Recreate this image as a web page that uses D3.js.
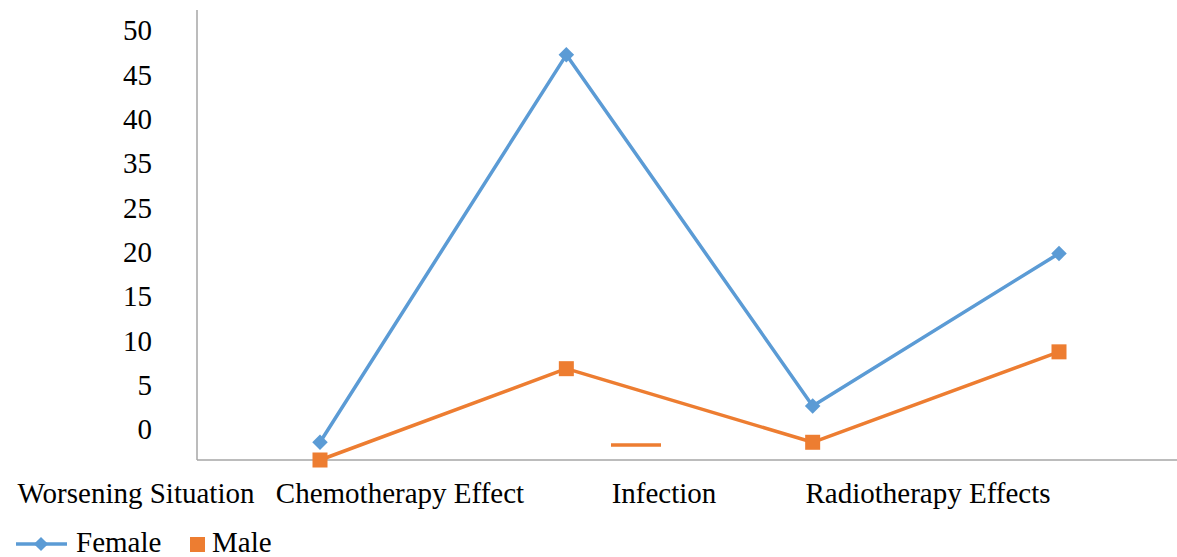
<!DOCTYPE html>
<html>
<head>
<meta charset="utf-8">
<script src="https://cdn.jsdelivr.net/npm/d3@7"></script>
</head>
<body style="margin:0;padding:0;background:#fff">
<svg id="chart" width="1177" height="557"></svg>
<script>
// ---- data ----
const categories = ["Worsening Situation", "Chemotherapy Effect", "Infection", "Radiotherapy Effects"];
const femaleValues = [2.0, 45.7, 6.1, 23.3];
const maleValues = [0.0, 10.3, 2.0, 12.2];
const yTickLabels = ["0", "5", "10", "15", "20", "25", "35", "40", "45", "50"];
const seriesNames = ["Female", "Male"];

// ---- layout ----
const axisX = 197, axisBottom = 460, axisTop = 10, axisRight = 1177;
const fontSize = 29;
const serifFont = "'Liberation Serif', monospace";
const colors = { Female: "#5B9BD5", Male: "#ED7D31" };

const svg = d3.select("#chart");

const x = d3.scalePoint().domain(categories).range([320, 1059]);
const xLabel = d3.scalePoint().domain(categories).range([136, 928]);
const y = d3.scaleLinear().domain([0, 50]).range([axisBottom, axisBottom - 443.3]);
const ySlot = d3.scaleLinear().domain([0, yTickLabels.length - 1]).range([430, 31]);

// axes lines
svg.append("line").attr("x1", axisX).attr("x2", axisX).attr("y1", axisTop).attr("y2", axisBottom)
  .attr("stroke", "#A6A6A6").attr("stroke-width", 1.5);
svg.append("line").attr("x1", axisX).attr("x2", axisRight).attr("y1", axisBottom).attr("y2", axisBottom)
  .attr("stroke", "#A6A6A6").attr("stroke-width", 1.5);

// y tick labels (positions from a slot scale, text from the label array)
svg.selectAll("text.ylab").data(yTickLabels).join("text")
  .attr("class", "ylab")
  .attr("x", 152).attr("y", (d, i) => ySlot(i))
  .attr("dy", "0.32em")
  .attr("text-anchor", "end")
  .attr("font-family", serifFont).attr("font-size", fontSize)
  .text(d => d);

// x labels
svg.selectAll("text.xlab").data(categories).join("text")
  .attr("class", "xlab")
  .attr("x", d => xLabel(d)).attr("y", 503)
  .attr("text-anchor", "middle")
  .attr("font-family", serifFont).attr("font-size", fontSize)
  .text(d => d);

// lines
const series = [
  { name: "Female", values: femaleValues },
  { name: "Male", values: maleValues }
];
const line = d3.line().x((d, i) => x(categories[i])).y(d => y(d));
series.forEach(s => {
  svg.append("path").datum(s.values).attr("d", line)
    .attr("fill", "none").attr("stroke", colors[s.name]).attr("stroke-width", 3.5)
    .attr("stroke-linejoin", "round");
});

// markers
svg.append("g").selectAll("rect").data(femaleValues).join("rect")
  .attr("x", -5.5).attr("y", -5.5).attr("width", 11).attr("height", 11)
  .attr("transform", (d, i) => `translate(${x(categories[i])},${y(d)}) rotate(45)`)
  .attr("fill", colors.Female);
svg.append("g").selectAll("rect").data(maleValues).join("rect")
  .attr("x", (d, i) => x(categories[i]) - 7.5).attr("y", d => y(d) - 7.5)
  .attr("width", 15).attr("height", 15)
  .attr("fill", colors.Male);

// stray orange dash present in the original
svg.append("line").attr("x1", 611).attr("x2", 661).attr("y1", 445).attr("y2", 445)
  .attr("stroke", colors.Male).attr("stroke-width", 3.5);

// legend
svg.append("line").attr("x1", 16).attr("x2", 67).attr("y1", 544).attr("y2", 544)
  .attr("stroke", colors.Female).attr("stroke-width", 3.5);
svg.append("rect").attr("x", -5).attr("y", -5).attr("width", 10).attr("height", 10)
  .attr("transform", "translate(41,544) rotate(45)").attr("fill", colors.Female);
svg.append("text").attr("x", 76).attr("y", 552)
  .attr("font-family", serifFont).attr("font-size", fontSize).text(seriesNames[0]);
svg.append("rect").attr("x", 190).attr("y", 537).attr("width", 15).attr("height", 15).attr("fill", colors.Male);
svg.append("text").attr("x", 212).attr("y", 552)
  .attr("font-family", serifFont).attr("font-size", fontSize).text(seriesNames[1]);
</script>
</body>
</html>
